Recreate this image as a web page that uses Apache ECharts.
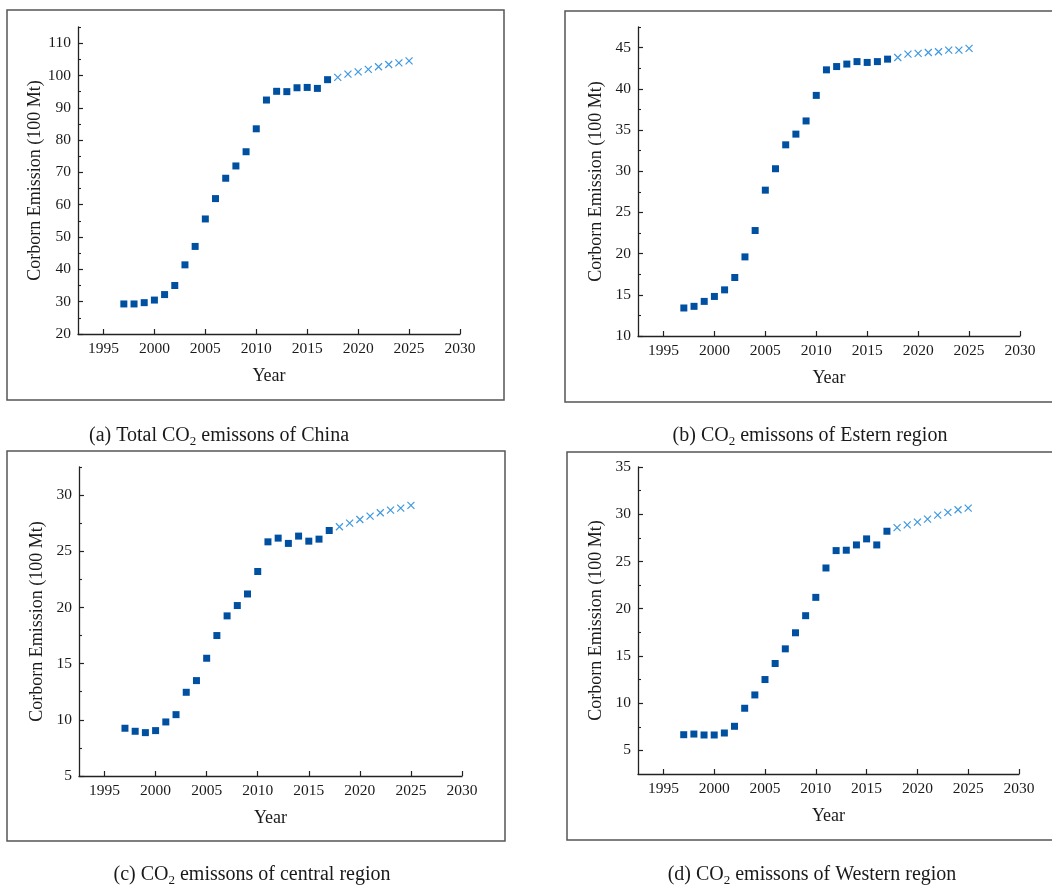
<!DOCTYPE html>
<html>
<head>
<meta charset="utf-8">
<script src="https://cdn.jsdelivr.net/npm/echarts@6/dist/echarts.min.js"></script>
<style>html,body{margin:0;padding:0;background:#fff}#c{width:1052px;height:888px}</style>
</head>
<body>
<div id="c"></div>
<script>
// ---- data ----
const histYears = [1997,1998,1999,2000,2001,2002,2003,2004,2005,2006,2007,2008,2009,2010,2011,2012,2013,2014,2015,2016,2017];
const foreYears = [2018,2019,2020,2021,2022,2023,2024,2025];

const chinaHist = [29.3,29.3,29.7,30.5,32.2,35.0,41.4,47.1,55.6,61.9,68.2,72.0,76.4,83.5,92.4,95.1,95.0,96.2,96.3,96.0,98.7];
const chinaFore = [99.4,100.4,101.1,101.9,102.7,103.4,103.9,104.5];

const eastHist = [13.4,13.6,14.2,14.8,15.6,17.1,19.6,22.8,27.7,30.3,33.2,34.5,36.1,39.2,42.3,42.7,43.0,43.3,43.2,43.3,43.6];
const eastFore = [43.8,44.2,44.3,44.4,44.5,44.7,44.7,44.9];

const centralHist = [9.25,8.98,8.86,9.04,9.81,10.46,12.45,13.49,15.48,17.5,19.25,20.17,21.2,23.2,25.84,26.17,25.7,26.35,25.9,26.08,26.85];
const centralFore = [27.18,27.5,27.83,28.13,28.43,28.66,28.84,29.08];

const westHist = [6.66,6.73,6.63,6.63,6.84,7.55,9.46,10.87,12.5,14.2,15.75,17.45,19.26,21.2,24.31,26.15,26.19,26.75,27.39,26.75,28.2];
const westFore = [28.59,28.88,29.16,29.48,29.9,30.19,30.47,30.65];

// ---- tick labels ----
const xTicks = [1995,2000,2005,2010,2015,2020,2025,2030];
const aMajor = [20,30,40,50,60,70,80,90,100,110];
const aMinor = [25,35,45,55,65,75,85,95,105,115];
const bMajor = [10,15,20,25,30,35,40,45];
const bMinor = [12.5,17.5,22.5,27.5,32.5,37.5,42.5,47.5];
const cMajor = [5,10,15,20,25,30];
const cMinor = [7.5,12.5,17.5,22.5,27.5,32.5];
const dMajor = [5,10,15,20,25,30,35];
const dMinor = [7.5,12.5,17.5,22.5,27.5,32.5];

const yName = 'Corborn Emission (100 Mt)';
const xName = 'Year';
const captions = [
  '(a) Total CO{sub|2} emissons of China',
  '(b) CO{sub|2} emissons of Estern region',
  '(c) CO{sub|2} emissons of central region',
  '(d) CO{sub|2} emissons of Western region'
];

// ---- layout / style ----
const FONT = 'Liberation Serif';
const TXT = '#1a1a1a';
const panels = [
  {grid:{left:78, top:27, width:382, height:307}, yMin:20, yMax:115, major:aMajor, minor:aMinor, hist:chinaHist, fore:chinaFore},
  {grid:{left:638, top:27, width:382, height:309}, yMin:10, yMax:47.5, major:bMajor, minor:bMinor, hist:eastHist, fore:eastFore},
  {grid:{left:79, top:467, width:383, height:309}, yMin:5, yMax:32.5, major:cMajor, minor:cMinor, hist:centralHist, fore:centralFore},
  {grid:{left:638, top:467, width:381, height:307}, yMin:2.5, yMax:35, major:dMajor, minor:dMinor, hist:westHist, fore:westFore}
];

const plain = v => String(v);
const grids = [], xAxes = [], yAxes = [], series = [];
panels.forEach((p, i) => {
  grids.push(Object.assign({containLabel:false}, p.grid));
  xAxes.push({
    type:'value', gridIndex:i, min:1992.5, max:2030,
    splitLine:{show:false},
    axisLine:{show:true, onZero:false, lineStyle:{color:'#222', width:1.3}},
    axisTick:{show:true, inside:true, length:5, customValues:xTicks, lineStyle:{color:'#222', width:1.2}},
    axisLabel:{customValues:xTicks, formatter:plain, fontFamily:FONT, fontSize:15.5, color:TXT, margin:7},
    name:xName, nameLocation:'middle', nameGap:33,
    nameTextStyle:{fontFamily:FONT, fontSize:18, color:TXT}
  });
  yAxes.push({
    type:'value', gridIndex:i, min:p.yMin, max:p.yMax, position:'left',
    splitLine:{show:false},
    axisLine:{show:true, onZero:false, lineStyle:{color:'#222', width:1.3}},
    axisTick:{show:true, inside:true, length:5, customValues:p.major, lineStyle:{color:'#222', width:1.2}},
    axisLabel:{customValues:p.major, formatter:plain, fontFamily:FONT, fontSize:15.5, color:TXT, margin:7},
    name:yName, nameLocation:'middle', nameGap:33,
    nameTextStyle:{fontFamily:FONT, fontSize:18, color:TXT}
  });
  yAxes.push({
    type:'value', gridIndex:i, min:p.yMin, max:p.yMax, position:'left', offset:0,
    splitLine:{show:false},
    axisLine:{show:false},
    axisTick:{show:true, inside:true, length:3, customValues:p.minor, lineStyle:{color:'#222', width:1.1}},
    axisLabel:{show:false}
  });
  series.push({
    type:'scatter', xAxisIndex:i, yAxisIndex:2*i,
    symbol:'rect', symbolSize:7,
    itemStyle:{color:'#0050a2', opacity:1},
    data:histYears.map((y, k) => [y, p.hist[k]])
  });
  series.push({
    type:'scatter', xAxisIndex:i, yAxisIndex:2*i,
    symbol:'path://M0,0L10,10M10,0L0,10', symbolSize:7,
    itemStyle:{color:'rgba(0,0,0,0)', borderColor:'#3f98e0', borderWidth:1.2, opacity:1},
    data:foreYears.map((y, k) => [y, p.fore[k]])
  });
});

const frames = [
  {x:7, y:10, w:497, h:390},
  {x:565, y:11, w:520, h:391},
  {x:7, y:451, w:498, h:390},
  {x:567, y:452, w:520, h:388}
];
const capPos = [[219,436],[810,436],[252,875],[812,875]];

const graphic = [];
frames.forEach(f => graphic.push({
  type:'rect', shape:{x:f.x, y:f.y, width:f.w, height:f.h},
  style:{fill:'none', stroke:'#555', lineWidth:1.5}, silent:true
}));
captions.forEach((t, i) => graphic.push({
  type:'text', x:capPos[i][0], y:capPos[i][1],
  style:{
    text:t, align:'center', verticalAlign:'middle',
    fontFamily:FONT, fontSize:20, fill:TXT, lineHeight:24,
    rich:{sub:{fontFamily:FONT, fontSize:13, fill:TXT, lineHeight:12, verticalAlign:'bottom'}}
  }, silent:true
}));

const chart = echarts.init(document.getElementById('c'), null, {renderer:'canvas'});
chart.setOption({
  animation:false,
  backgroundColor:'#fff',
  grid:grids, xAxis:xAxes, yAxis:yAxes, series:series, graphic:graphic
});
</script>
</body>
</html>
